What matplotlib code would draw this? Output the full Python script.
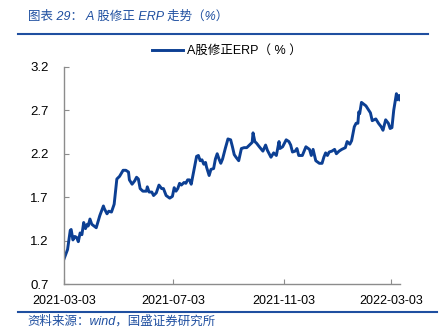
import matplotlib
matplotlib.use('Agg')
import matplotlib.pyplot as plt
import matplotlib.dates as mdates
import numpy as np
import pandas as pd
from matplotlib.lines import Line2D

# A股修正ERP（%）
dates = [
    '2021-03-03', '2021-03-07', '2021-03-10', '2021-03-11', '2021-03-13',
    '2021-03-15', '2021-03-17', '2021-03-19', '2021-03-21', '2021-03-23',
    '2021-03-25', '2021-03-27', '2021-03-29', '2021-03-30', '2021-04-01',
    '2021-04-03', '2021-04-08', '2021-04-12', '2021-04-16', '2021-04-17',
    '2021-04-20', '2021-04-22', '2021-04-25', '2021-04-28', '2021-05-01',
    '2021-05-04', '2021-05-08', '2021-05-11', '2021-05-14', '2021-05-15',
    '2021-05-18', '2021-05-21', '2021-05-23', '2021-05-25', '2021-05-27',
    '2021-05-30', '2021-06-03', '2021-06-04', '2021-06-06', '2021-06-09',
    '2021-06-11', '2021-06-14', '2021-06-17', '2021-06-20', '2021-06-22',
    '2021-06-25', '2021-06-29', '2021-07-02', '2021-07-04', '2021-07-06',
    '2021-07-08', '2021-07-10', '2021-07-12', '2021-07-15', '2021-07-17',
    '2021-07-19', '2021-07-21', '2021-07-23', '2021-07-26', '2021-07-29',
    '2021-07-31', '2021-08-02', '2021-08-04', '2021-08-06', '2021-08-08',
    '2021-08-09', '2021-08-12', '2021-08-14', '2021-08-17', '2021-08-19',
    '2021-08-21', '2021-08-23', '2021-08-25', '2021-08-27', '2021-08-30',
    '2021-09-02', '2021-09-05', '2021-09-07', '2021-09-09', '2021-09-11',
    '2021-09-14', '2021-09-17', '2021-09-20', '2021-09-23', '2021-09-26',
    '2021-09-29', '2021-09-30', '2021-10-02', '2021-10-04', '2021-10-07',
    '2021-10-11', '2021-10-14', '2021-10-16', '2021-10-20', '2021-10-23',
    '2021-10-26', '2021-10-29', '2021-10-30', '2021-11-02', '2021-11-04',
    '2021-11-06', '2021-11-09', '2021-11-11', '2021-11-13', '2021-11-16',
    '2021-11-18', '2021-11-20', '2021-11-24', '2021-11-28', '2021-12-02',
    '2021-12-04', '2021-12-06', '2021-12-09', '2021-12-13', '2021-12-16',
    '2021-12-18', '2021-12-20', '2021-12-22', '2021-12-24', '2021-12-27',
    '2021-12-30', '2022-01-01', '2022-01-04', '2022-01-07', '2022-01-09',
    '2022-01-11', '2022-01-13', '2022-01-16', '2022-01-18', '2022-01-21',
    '2022-01-23', '2022-01-25', '2022-01-26', '2022-01-27', '2022-01-29',
    '2022-02-03', '2022-02-08', '2022-02-10', '2022-02-14', '2022-02-17',
    '2022-02-20', '2022-02-22', '2022-02-25', '2022-02-28', '2022-03-02',
    '2022-03-04', '2022-03-06', '2022-03-09', '2022-03-10', '2022-03-12',
    '2022-03-13',
]
erp = [
    0.99, 1.10, 1.32, 1.33, 1.21, 1.25, 1.24, 1.19, 1.29, 1.27,
    1.41, 1.34, 1.39, 1.37, 1.45, 1.39, 1.35, 1.49, 1.60, 1.57,
    1.51, 1.54, 1.53, 1.62, 1.91, 1.94, 2.01, 2.01, 1.99, 1.90,
    1.85, 1.89, 1.93, 1.91, 1.80, 1.77, 1.77, 1.82, 1.76, 1.76,
    1.72, 1.75, 1.84, 1.80, 1.80, 1.72, 1.69, 1.71, 1.81, 1.77,
    1.80, 1.86, 1.84, 1.87, 1.86, 1.90, 1.90, 1.85, 2.01, 2.17,
    2.18, 2.12, 2.13, 2.08, 2.10, 2.05, 1.95, 2.02, 2.03, 2.14,
    2.20, 2.14, 2.09, 2.14, 2.26, 2.37, 2.36, 2.28, 2.19, 2.16,
    2.12, 2.26, 2.27, 2.27, 2.30, 2.33, 2.44, 2.34, 2.32, 2.28,
    2.23, 2.30, 2.24, 2.16, 2.21, 2.18, 2.34, 2.26, 2.28, 2.32,
    2.36, 2.34, 2.30, 2.22, 2.23, 2.26, 2.18, 2.18, 2.28, 2.25,
    2.18, 2.25, 2.12, 2.09, 2.09, 2.16, 2.21, 2.18, 2.22, 2.23,
    2.25, 2.20, 2.23, 2.25, 2.26, 2.27, 2.34, 2.31, 2.35, 2.51,
    2.55, 2.55, 2.68, 2.66, 2.79, 2.75, 2.67, 2.58, 2.60, 2.55,
    2.51, 2.47, 2.59, 2.55, 2.49, 2.50, 2.70, 2.89, 2.82, 2.87,
    2.82,
]
tick_dates = ['2021-03-03', '2021-07-03', '2021-11-03', '2022-03-03']
yticks = [0.7, 1.2, 1.7, 2.2, 2.7, 3.2]

title = '图表 29： A 股修正 ERP 走势（%）'
source = '资料来源：wind，国盛证券研究所'
label = 'A股修正ERP（ % ）'

blue_line = '#0C3F93'
blue_text = '#1F4FA0'
grey = '#8C8C8C'

plt.rcParams['font.family'] = ['Liberation Sans', 'Noto Sans CJK SC']

x = pd.to_datetime(dates)
ticks = pd.to_datetime(tick_dates)

fig = plt.figure(figsize=(4.44, 3.35), dpi=100)
ax = fig.add_axes([0.1441, 0.1513, 0.7568, 0.6496])
ax.plot(x, erp, color=blue_line, lw=2.1, label=label)

ax.set_xlim(x[0], x[-1])
ax.set_ylim(0.7, 3.2)
ax.set_yticks(yticks)
ax.set_yticklabels([f'{v:.1f}' for v in yticks])
ax.set_xticks(ticks)
ax.xaxis.set_major_formatter(mdates.DateFormatter('%Y-%m-%d'))

for side in ['top', 'right']:
    ax.spines[side].set_visible(False)
for side in ['left', 'bottom']:
    ax.spines[side].set_color(grey)
    ax.spines[side].set_linewidth(1.0)
ax.tick_params(axis='both', direction='in', length=3.5, width=0.8,
               color=grey, labelsize=9, labelcolor='black')
ax.tick_params(axis='y', labelsize=9.5, pad=11)
ax.tick_params(axis='x', pad=8)

ax.legend(loc='center', bbox_to_anchor=(0.51, 0.848),
          bbox_transform=fig.transFigure, frameon=False, fontsize=9,
          handlelength=2.5, handletextpad=0.3)

fig.text(0.062, 0.949, title, color=blue_text, fontsize=9,
         style='italic', va='center', ha='left')
fig.text(0.062, 0.040, source, color=blue_text, fontsize=9,
         style='italic', va='center', ha='left')
fig.add_artist(Line2D([18 / 444, 428 / 444], [1 - 34.3 / 335] * 2,
                      color=blue_text, lw=1.5))
fig.add_artist(Line2D([18 / 444, 437 / 444], [1 - 312.3 / 335] * 2,
                      color=blue_text, lw=1.5))

fig.savefig('out.png', dpi=100)
plt.close()
